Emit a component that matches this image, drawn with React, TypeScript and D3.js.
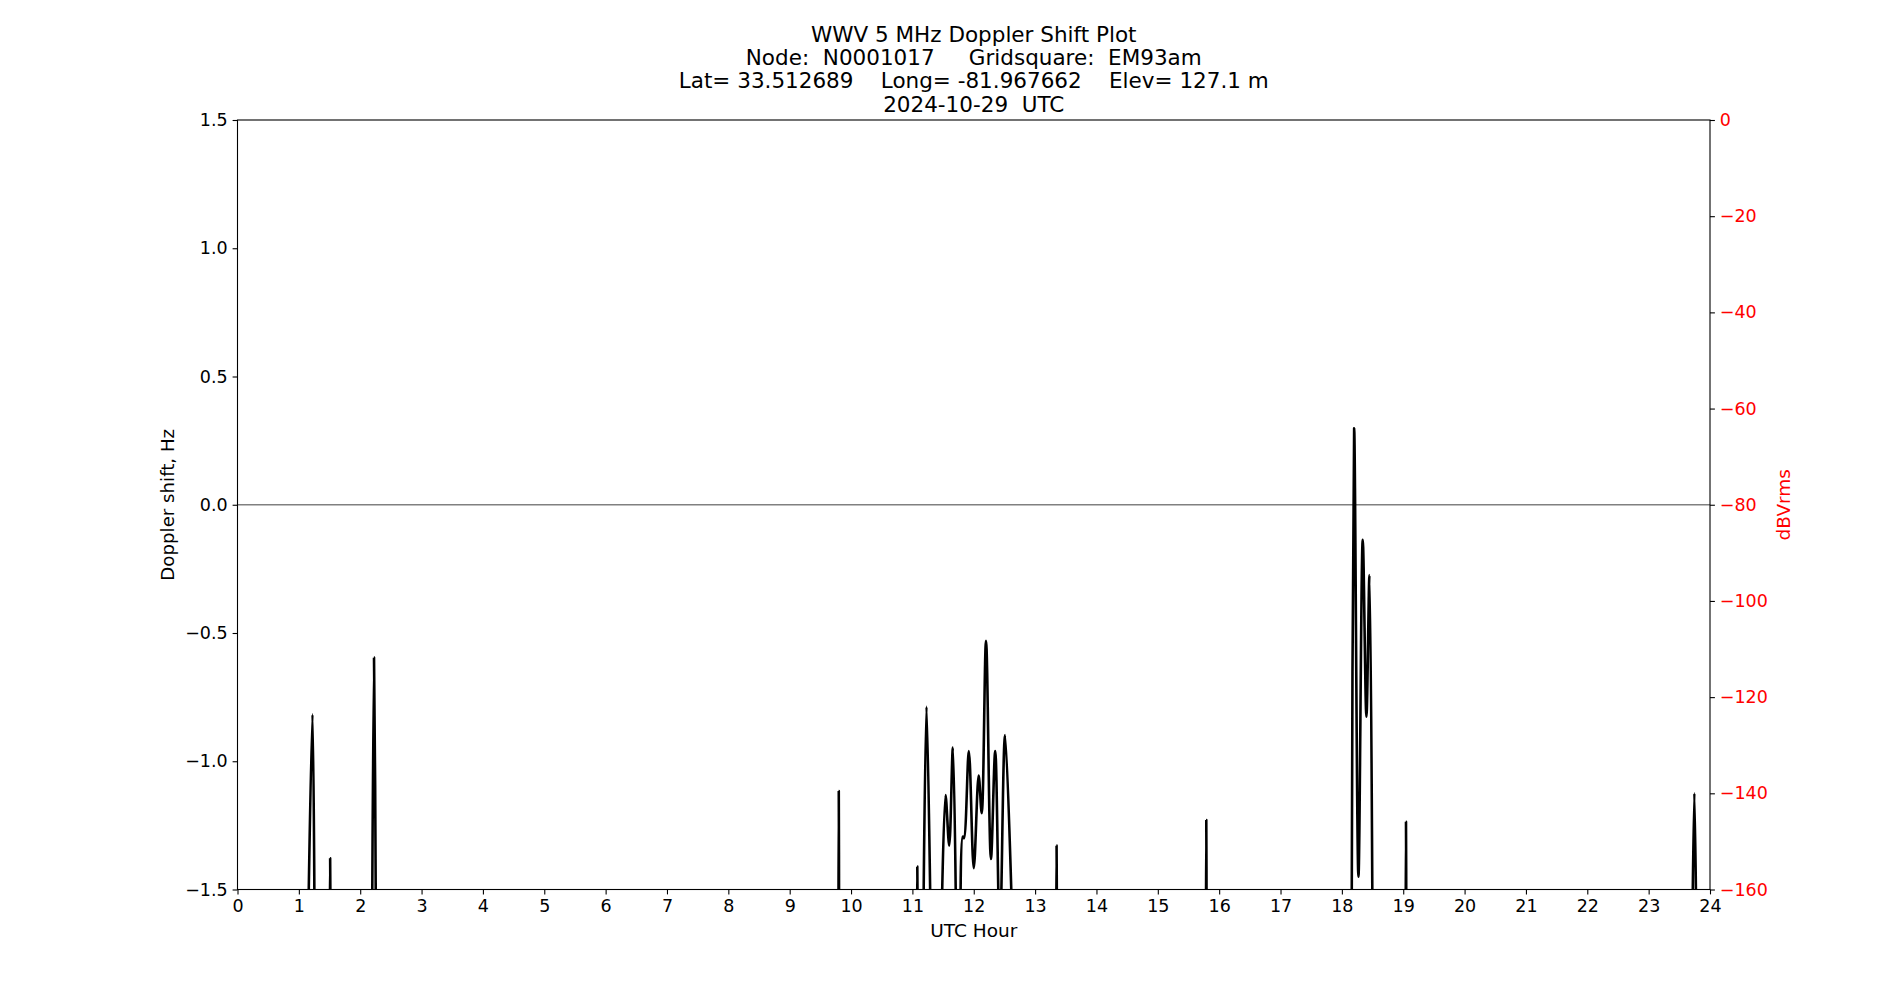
import React, { useEffect, useRef } from "react";
import * as d3 from "d3";

// ---- data (UTC hour, Doppler shift Hz); null marks a gap in the trace ----
const hours: number[] = [
  1.155, 1.222, 1.255, NaN,
  1.505, 1.51, 1.515, NaN,
  2.195, 2.225, 2.255, NaN,
  9.795, 9.8, 9.805, NaN,
  11.075, 11.08, 11.085, NaN,
  11.18, 11.23, 11.295, NaN,
  11.47, 11.54, 11.6, 11.66, 11.715, NaN,
  11.785, 11.82, 11.84, 11.92, 12.0, 12.08, 12.13, 12.2, 12.28, 12.35, 12.425, 12.51, 12.635, NaN,
  13.345, 13.35, 13.355, NaN,
  15.785, 15.79, 15.795, NaN,
  18.16, 18.2, 18.27, 18.34, 18.4, 18.45, 18.5, NaN,
  19.04, 19.045, 19.05, NaN,
  23.715, 23.745, 23.775,
];
const doppler: (number | null)[] = [
  -1.6, -0.817, -1.6, null,
  -1.6, -1.378, -1.6, null,
  -1.6, -0.596, -1.6, null,
  -1.6, -1.116, -1.6, null,
  -1.6, -1.411, -1.6, null,
  -1.6, -0.787, -1.6, null,
  -1.7, -1.132, -1.329, -0.947, -1.7, null,
  -1.65, -1.294, -1.3, -0.96, -1.417, -1.056, -1.203, -0.53, -1.381, -0.96, -1.7, -0.898, -1.7, null,
  -1.6, -1.329, -1.6, null,
  -1.6, -1.229, -1.6, null,
  -1.6, 0.298, -1.45, -0.137, -0.826, -0.274, -1.7, null,
  -1.6, -1.236, -1.6, null,
  -1.6, -1.125, -1.6,
];

const xTicks: number[] = d3.range(0, 25, 1);
const yTicks: number[] = [-1.5, -1.0, -0.5, 0.0, 0.5, 1.0, 1.5];
const rightTicks: number[] = [0, -20, -40, -60, -80, -100, -120, -140, -160];

const titleLines: string[] = [
  "WWV 5 MHz Doppler Shift Plot",
  "Node:  N0001017     Gridsquare:  EM93am",
  "Lat= 33.512689    Long= -81.967662    Elev= 127.1 m",
  "2024-10-29  UTC",
];

const W = 1900;
const H = 1000;
const M = { left: 237.5, right: 1710, top: 120, bottom: 889.5 };
const FONT = "'DejaVu Sans', sans-serif";
const fmtMinus = (s: string) => s.replace("-", "\u2212");

export default function App() {
  const ref = useRef<SVGSVGElement | null>(null);

  useEffect(() => {
    const svg = d3.select(ref.current);
    svg.selectAll("*").remove();

    const x = d3.scaleLinear().domain([0, 24]).range([M.left, M.right]);
    const y = d3.scaleLinear().domain([-1.5, 1.5]).range([M.bottom, M.top]);
    const yR = d3.scaleLinear().domain([-160, 0]).range([M.bottom, M.top]);

    svg.append("rect").attr("width", W).attr("height", H).attr("fill", "#fff");

    svg
      .append("defs")
      .append("clipPath")
      .attr("id", "plotclip")
      .append("rect")
      .attr("x", M.left)
      .attr("y", M.top)
      .attr("width", M.right - M.left)
      .attr("height", M.bottom - M.top);

    // zero line
    svg
      .append("line")
      .attr("x1", M.left)
      .attr("x2", M.right)
      .attr("y1", y(0))
      .attr("y2", y(0))
      .attr("stroke", "#808080")
      .attr("stroke-width", 1.4);

    const pts = hours.map((h, i) => ({ h, v: doppler[i] }));
    const line = d3
      .line<{ h: number; v: number | null }>()
      .defined((d) => d.v !== null)
      .x((d) => x(d.h))
      .y((d) => y(d.v as number))
      .curve(d3.curveCatmullRom.alpha(0.5));

    svg
      .append("path")
      .attr("clip-path", "url(#plotclip)")
      .attr("d", line(pts) as string)
      .attr("fill", "none")
      .attr("stroke", "#000")
      .attr("stroke-width", 2.6)
      .attr("stroke-linejoin", "round");

    const styleAxis = (g: any, color: string) => {
      g.selectAll("path").remove();
      g.selectAll("line").attr("stroke", "#000").attr("stroke-width", 1.1);
      g.selectAll("text")
        .attr("fill", color)
        .attr("font-family", FONT)
        .attr("font-size", 17.5);
    };

    const gx = svg
      .append("g")
      .attr("transform", `translate(0,${M.bottom})`)
      .call(
        d3.axisBottom(x).tickValues(xTicks).tickFormat(d3.format("d")).tickSize(4.9).tickPadding(4.9)
      );
    styleAxis(gx, "#000");

    const gy = svg
      .append("g")
      .attr("transform", `translate(${M.left},0)`)
      .call(
        d3
          .axisLeft(y)
          .tickValues(yTicks)
          .tickFormat((d: any) => fmtMinus(d3.format(".1f")(d)))
          .tickSize(4.9)
          .tickPadding(4.9)
      );
    styleAxis(gy, "#000");

    const gr = svg
      .append("g")
      .attr("transform", `translate(${M.right},0)`)
      .call(
        d3
          .axisRight(yR)
          .tickValues(rightTicks)
          .tickFormat((d: any) => fmtMinus(d3.format("d")(d)))
          .tickSize(4.9)
          .tickPadding(4.9)
      );
    styleAxis(gr, "#ff0000");

    // spines
    svg
      .append("rect")
      .attr("x", M.left)
      .attr("y", M.top)
      .attr("width", M.right - M.left)
      .attr("height", M.bottom - M.top)
      .attr("fill", "none")
      .attr("stroke", "#000")
      .attr("stroke-width", 1.1);

    // axis labels
    svg
      .append("text")
      .attr("x", (M.left + M.right) / 2)
      .attr("y", 937)
      .attr("text-anchor", "middle")
      .attr("font-family", FONT)
      .attr("font-size", 18.5)
      .attr("fill", "#000")
      .text("UTC Hour");

    svg
      .append("text")
      .attr("transform", `translate(174,${(M.top + M.bottom) / 2}) rotate(-90)`)
      .attr("text-anchor", "middle")
      .attr("font-family", FONT)
      .attr("font-size", 18.2)
      .attr("fill", "#000")
      .text("Doppler shift, Hz");

    svg
      .append("text")
      .attr("transform", `translate(1789.5,${(M.top + M.bottom) / 2}) rotate(-90)`)
      .attr("text-anchor", "middle")
      .attr("font-family", FONT)
      .attr("font-size", 18.5)
      .attr("fill", "#ff0000")
      .text("dBVrms");

    // title
    const baselines = [41.7, 65, 88.3, 111.7];
    titleLines.forEach((t, i) => {
      svg
        .append("text")
        .attr("x", (M.left + M.right) / 2)
        .attr("y", baselines[i])
        .attr("text-anchor", "middle")
        .attr("font-family", FONT)
        .attr("font-size", 21.5)
        .attr("fill", "#000")
        .style("white-space", "pre")
        .text(t);
    });
  }, []);

  return (
    <svg
      ref={ref}
      width={W}
      height={H}
      style={{ position: "absolute", left: 0, top: 0, display: "block" }}
    />
  );
}
